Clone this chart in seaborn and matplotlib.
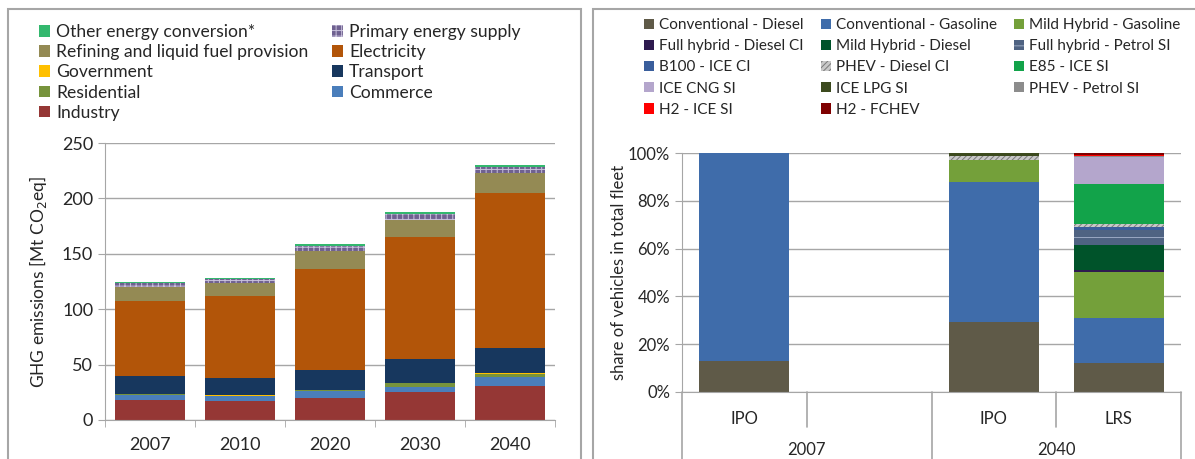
import numpy as np
import pandas as pd
import matplotlib
matplotlib.use("Agg")
import matplotlib.pyplot as plt
from matplotlib.patches import Patch, Rectangle
from matplotlib.ticker import PercentFormatter
import seaborn as sns

# ---- left chart: GHG emissions by sector [Mt CO2eq]
years = ["2007", "2010", "2020", "2030", "2040"]
industry = [18.5, 17.0, 20.0, 25.0, 30.5]
commerce = [4.5, 4.5, 6.0, 5.0, 8.0]
residential = [0.7, 0.5, 1.2, 3.0, 3.0]
government = [0.2, 0.2, 0.2, 0.5, 0.5]
transport = [15.5, 15.5, 18.0, 21.3, 23.0]
electricity = [68.0, 74.5, 91.0, 110.0, 140.0]
refining = [13.0, 11.0, 16.0, 16.0, 18.0]
primary = [3.0, 4.0, 5.0, 5.5, 5.0]
other_conv = [1.0, 1.0, 1.0, 1.5, 2.0]

sectors = ["Industry", "Commerce", "Residential", "Government", "Transport",
           "Electricity", "Refining and liquid fuel provision",
           "Primary energy supply", "Other energy conversion*"]
sector_vals = [industry, commerce, residential, government, transport,
               electricity, refining, primary, other_conv]
sector_cols = ["#953735", "#4A7EBB", "#77933C", "#FFC000", "#17375E",
               "#B25509", "#948A54", "#6F6190", "#33B86E"]
sector_hatch = [None, None, None, None, None, None, None, "+++", None]

# ---- right chart: share of vehicles in total fleet [%]
groups = ["2007", "2007", "2040", "2040"]
scenarios = ["IPO", "", "IPO", "LRS"]
conv_diesel = [12.8, 0, 29.1, 12.1]
conv_gasoline = [87.2, 0, 58.6, 18.9]
mild_gasoline = [0, 0, 9.5, 19.1]
full_diesel = [0, 0, 0, 1.1]
mild_diesel = [0, 0, 0, 10.2]
full_petrol = [0, 0, 0, 6.5]
b100 = [0, 0, 0, 1.2]
phev_diesel = [0, 0, 1.6, 1.2]
e85 = [0, 0, 0, 16.9]
ice_cng = [0, 0, 0, 11.0]
ice_lpg = [0, 0, 1.2, 0.3]
phev_petrol = [0, 0, 0, 0.3]
h2_ice = [0, 0, 0, 0.4]
h2_fchev = [0, 0, 0, 0.8]

techs = ["Conventional - Diesel", "Conventional - Gasoline", "Mild Hybrid - Gasoline",
         "Full hybrid - Diesel CI", "Mild Hybrid - Diesel", "Full hybrid - Petrol SI",
         "B100 - ICE CI", "PHEV - Diesel CI", "E85 - ICE SI", "ICE CNG SI",
         "ICE LPG SI", "PHEV - Petrol SI", "H2 - ICE SI", "H2 - FCHEV"]
tech_vals = [conv_diesel, conv_gasoline, mild_gasoline, full_diesel, mild_diesel,
             full_petrol, b100, phev_diesel, e85, ice_cng, ice_lpg, phev_petrol,
             h2_ice, h2_fchev]
tech_cols = ["#5F5A48", "#3F6CAA", "#74A03A", "#2E1A4F", "#00532A", "#4F6382",
             "#3A5E9C", "#C8C8C8", "#12A34A", "#B4A6CC", "#3C4A1E", "#8C8C8C",
             "#FF0000", "#7F0000"]
tech_hatch = [None, None, None, None, None, "--", None, "//////", None, None,
              None, None, None, None]

sns.set_style("white")
plt.rcParams["font.family"] = ["Lato", "DejaVu Sans"]
plt.rcParams["hatch.linewidth"] = 0.7
grey = "#A6A6A6"
txt = "#262626"


def hatch_col(h):
    if h == "+++":
        return "#C9C1DC"
    if h == "--":
        return "#9AA8C2"
    return "#7A7A7A"


def stacked(ax, cats, vals, cols, hatches, width):
    cum = np.cumsum(np.array(vals, dtype=float), axis=0)
    # draw from top layer down so each layer covers the one above
    for i in range(len(vals) - 1, -1, -1):
        h = hatches[i]
        sns.barplot(x=cats, y=cum[i], color=cols[i], width=width, saturation=1,
                    errorbar=None, ax=ax, linewidth=0, edgecolor=hatch_col(h), hatch=h)


fig = plt.figure(figsize=(11.95, 4.59), dpi=100)

# panel frames
fig.add_artist(Rectangle((8 / 1195, -0.1), 573 / 1195, 1.1 - 9 / 459, transform=fig.transFigure,
                         fill=False, edgecolor=grey, lw=1.5))
fig.add_artist(Rectangle((593 / 1195, -0.1), 0.6, 1.1 - 9 / 459, transform=fig.transFigure,
                         fill=False, edgecolor=grey, lw=1.5))

# ---------- left
ax1 = fig.add_axes([105 / 1195, 39 / 459, 450 / 1195, 277 / 459])
stacked(ax1, years, sector_vals, sector_cols, sector_hatch, 0.77)
ax1.set_ylim(0, 250)
ax1.set_xlim(-0.5, 4.5)
ax1.set_yticks(range(0, 251, 50))
ax1.yaxis.grid(True, color=grey, lw=1)
ax1.set_axisbelow(True)
for s in ["top", "right"]:
    ax1.spines[s].set_visible(False)
for s in ["left", "bottom"]:
    ax1.spines[s].set_color(grey)
ax1.set_xticks(range(len(years)))
ax1.set_xticklabels(years)
ax1.set_xticks(np.arange(-0.5, 5, 1), minor=True)
ax1.tick_params(axis="x", which="major", length=0, pad=12, labelsize=13, labelcolor=txt)
ax1.tick_params(axis="x", which="minor", length=5, color=grey, direction="out", bottom=True)
ax1.tick_params(axis="y", length=5, color=grey, left=True, labelsize=13, labelcolor=txt)
ax1.set_xlabel("")
ax1.set_ylabel("GHG emissions [Mt CO$_2$eq]", fontsize=12.5, color=txt)
ax1.yaxis.set_label_coords(-0.125, 0.5)

order1 = [8, 6, 3, 2, 0, 7, 5, 4, 1]
h1 = [Patch(facecolor=sector_cols[i], hatch=sector_hatch[i],
            edgecolor=hatch_col(sector_hatch[i]) if sector_hatch[i] else sector_cols[i], lw=0)
      for i in order1]
fig.legend(h1, [sectors[i] for i in order1], ncol=2, loc="upper left",
           bbox_to_anchor=(32 / 1195, 1 - 17 / 459), frameon=False, fontsize=12.6,
           handlelength=0.65, handleheight=0.65, handletextpad=0.35,
           labelspacing=0.24, columnspacing=1.3, borderaxespad=0, labelcolor=txt)

# ---------- right
ax2 = fig.add_axes([682 / 1195, 67 / 459, 499 / 1195, 239 / 459])
keys = [g + " " + s for g, s in zip(groups, scenarios)]
stacked(ax2, keys, tech_vals, tech_cols, tech_hatch, 0.72)
ax2.set_ylim(0, 100)
ax2.set_xlim(-0.5, 3.5)
ax2.set_yticks(range(0, 101, 20))
ax2.yaxis.set_major_formatter(PercentFormatter(decimals=0))
ax2.yaxis.grid(True, color=grey, lw=1)
ax2.set_axisbelow(True)
for s in ["top", "right"]:
    ax2.spines[s].set_visible(False)
for s in ["left", "bottom"]:
    ax2.spines[s].set_color(grey)
ax2.set_xticks(range(len(keys)))
ax2.set_xticklabels(scenarios)
ax2.tick_params(axis="x", length=0, pad=14, labelsize=12, labelcolor=txt)
ax2.tick_params(axis="y", length=5, color=grey, left=True, labelsize=12, labelcolor=txt)
ax2.set_xlabel("")
ax2.set_ylabel("share of vehicles in total fleet", fontsize=12, color=txt)
ax2.yaxis.set_label_coords(-0.11, 0.5)

# category table lines under the axis
tr = ax2.get_xaxis_transform()
for xb, low in zip([-0.5, 0.5, 1.5, 2.5, 3.5], [-0.5, -0.146, -0.5, -0.146, -0.5]):
    ax2.plot([xb, xb], [0, low], transform=tr, color=grey, lw=1.2, clip_on=False)
for gx, g in zip([0.5, 2.5], ["2007", "2040"]):
    ax2.text(gx, -0.243, g, transform=tr, ha="center", va="center",
             fontsize=12, color=txt)

order2 = [0, 3, 6, 9, 12, 1, 4, 7, 10, 13, 2, 5, 8, 11]
h2 = [Patch(facecolor=tech_cols[i], hatch=tech_hatch[i],
            edgecolor=hatch_col(tech_hatch[i]), lw=0)
      for i in order2]
fig.legend(h2, [techs[i] for i in order2], ncol=3, loc="upper left",
           bbox_to_anchor=(638 / 1195, 1 - 12 / 459), frameon=False, fontsize=11,
           handlelength=0.65, handleheight=0.65, handletextpad=0.35,
           labelspacing=0.47, columnspacing=1.1, borderaxespad=0, labelcolor=txt)

fig.savefig("out.png", dpi=100)
